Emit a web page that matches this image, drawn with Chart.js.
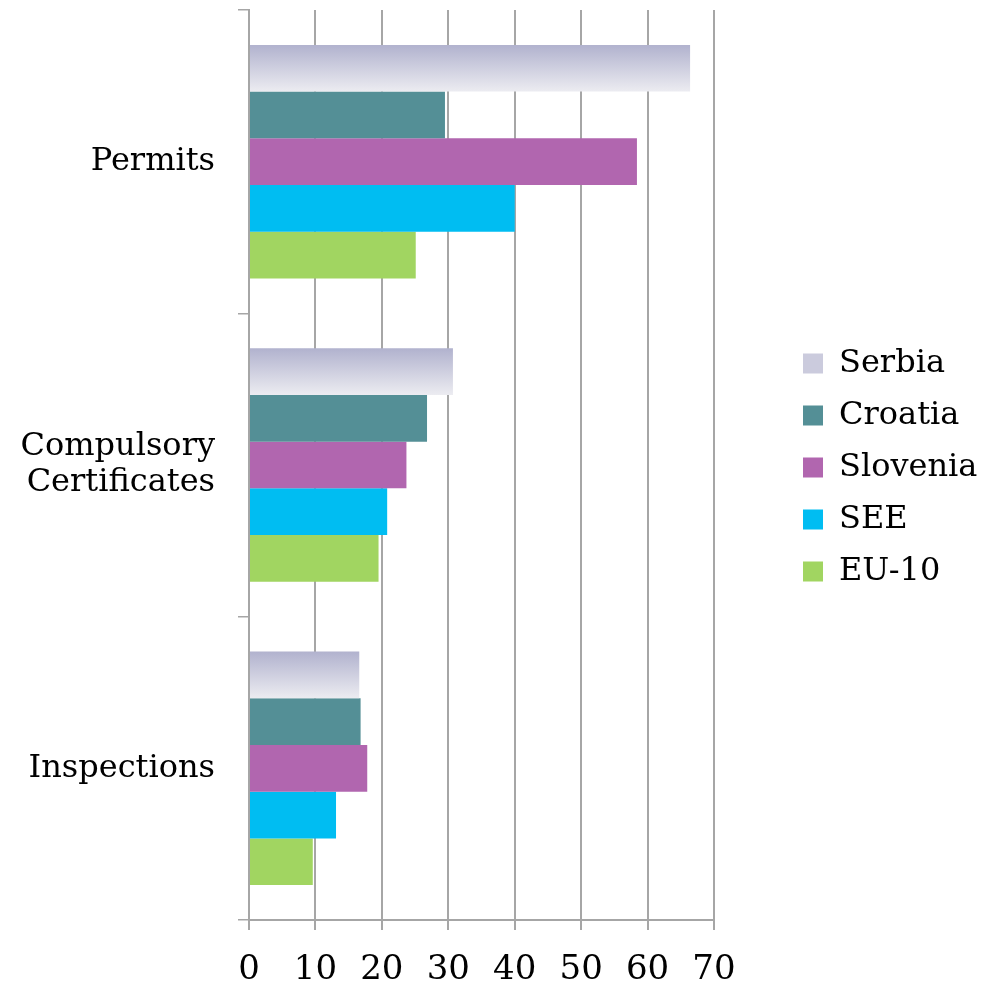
<!DOCTYPE html>
<html>
<head>
<meta charset="utf-8">
<script src="https://cdn.jsdelivr.net/npm/chart.js@4.4.0/dist/chart.umd.min.js"></script>
<style>
  html, body { margin: 0; padding: 0; background: #fff; }
  #wrap { width: 984px; height: 984px; }
</style>
</head>
<body>
<div id="wrap"><canvas id="chart" width="984" height="984"></canvas></div>
<script>
const categories = ["Permits", ["Compulsory", "Certificates"], "Inspections"];
const serbia   = [66.4, 30.7, 16.6];
const croatia  = [29.5, 26.8, 16.8];
const slovenia = [58.4, 23.7, 17.8];
const see      = [40.0, 20.8, 13.1];
const eu10     = [25.1, 19.5, 9.6];

const CAT_PCT = 0.77;
const GRID = "#a6a6a6";

Chart.defaults.font.family = "'DejaVu Serif', serif";
Chart.defaults.font.size = 32;
Chart.defaults.color = "#000";

// Serbia bars get a vertical gradient, top darker
function serbiaFill(c) {
    const chart = c.chart;
    const y = chart.scales.y;
    if (c.dataIndex === undefined || !y || !chart.chartArea) return "#cbcbdd";
    const step = y.getPixelForValue(1) - y.getPixelForValue(0);
    const top = y.getPixelForValue(c.dataIndex) - step * CAT_PCT / 2;
    const g = chart.ctx.createLinearGradient(0, top, 0, top + step * CAT_PCT / 5);
    g.addColorStop(0, "#b1b2ce");
    g.addColorStop(1, "#ececf1");
    return g;
}

// push the legend a bit to the right, away from the plot
const legendShift = {
    id: "legendShift",
    afterLayout(chart) {
        chart.legend.left += 69;
        chart.legend.right += 69;
    }
};

const ctx = document.getElementById("chart").getContext("2d");
new Chart(ctx, {
    type: "bar",
    data: {
        labels: categories,
        datasets: [
            { label: "Serbia", data: serbia, backgroundColor: serbiaFill },
            { label: "Croatia", data: croatia, backgroundColor: "#548f96" },
            { label: "Slovenia", data: slovenia, backgroundColor: "#b166af" },
            { label: "SEE", data: see, backgroundColor: "#00bdf2" },
            { label: "EU-10", data: eu10, backgroundColor: "#a1d561" }
        ]
    },
    plugins: [legendShift],
    options: {
        indexAxis: "y",
        responsive: false,
        animation: false,
        barPercentage: 1,
        categoryPercentage: CAT_PCT,
        layout: { padding: { top: 10, left: 0, right: 0, bottom: 0 } },
        plugins: {
            tooltip: { enabled: false },
            legend: {
                position: "right",
                align: "start",
                title: { display: true, text: "", padding: { top: 279, bottom: 0 } },
                labels: {
                    boxWidth: 20,
                    boxHeight: 20,
                    padding: 20,
                    font: { size: 32 },
                    generateLabels(chart) {
                        const items = Chart.defaults.plugins.legend.labels.generateLabels(chart);
                        items[0].fillStyle = "#cbcbdd";
                        items.forEach(i => { i.lineWidth = 0; });
                        return items;
                    }
                }
            }
        },
        scales: {
            x: {
                min: 0,
                max: 70,
                ticks: { stepSize: 10, padding: 20, font: { size: 34 } },
                grid: { color: GRID, lineWidth: 2, tickLength: 10 },
                border: { color: GRID, width: 2 },
                afterFit(scale) {
                    scale.height = 64;
                    scale.paddingRight = 270;
                }
            },
            y: {
                ticks: { padding: 23, font: { size: 32, lineHeight: 1.12 } },
                grid: { drawOnChartArea: false, color: GRID, lineWidth: 1.5, tickLength: 11 },
                border: { color: GRID, width: 2 },
                afterFit(scale) {
                    scale.width = 249;
                    scale.paddingTop = 0;
                    scale.paddingBottom = 0;
                }
            }
        }
    }
});
</script>
</body>
</html>
